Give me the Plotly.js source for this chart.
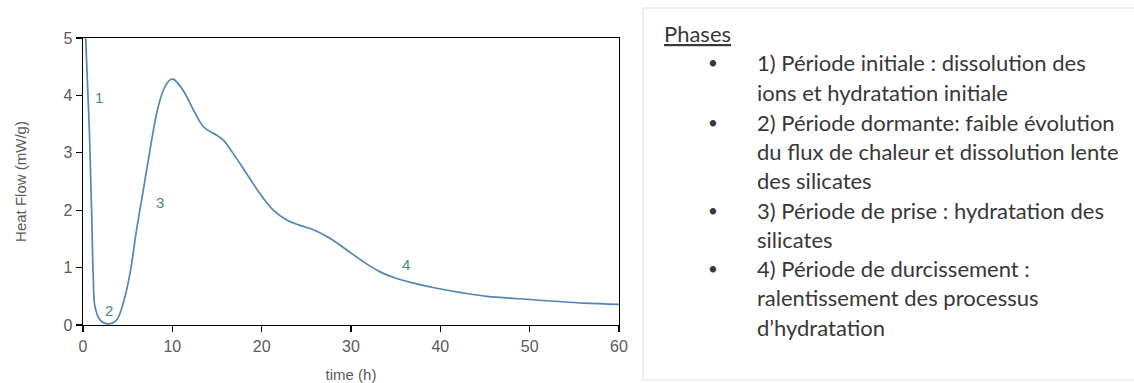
<!DOCTYPE html>
<html>
<head>
<meta charset="utf-8">
<script src="https://cdn.plot.ly/plotly-3.0.1.min.js"></script>
<style>html,body{margin:0;padding:0;background:#fff;}#chart{width:1134px;height:383px;}</style>
</head>
<body>
<div id="chart"></div>
<script>
// ---- data ----
const timeH = [0.3, 0.71, 0.97, 1.16, 1.34, 1.9, 2.84, 3.77, 4.5, 5.26, 6.0, 6.75, 7.5, 8.25, 8.99, 9.74, 10.15, 11.2, 12.35, 13.5, 14.6, 15.7, 16.8, 18.3, 19.8, 21.3, 22.8, 24.2, 25.8, 27.65, 29.5, 31.4, 33.2, 35.1, 37.0, 39.6, 42.5, 45.2, 50.4, 56.0, 60.0];
const heatFlow = [5.0, 3.4, 1.95, 0.78, 0.32, 0.09, 0.02, 0.09, 0.38, 0.9, 1.66, 2.35, 3.05, 3.69, 4.09, 4.27, 4.28, 4.09, 3.75, 3.45, 3.34, 3.22, 2.99, 2.64, 2.29, 2.0, 1.83, 1.74, 1.66, 1.51, 1.31, 1.10, 0.93, 0.81, 0.73, 0.64, 0.56, 0.50, 0.44, 0.38, 0.36];
const phaseLabels = ["1", "2", "3", "4"];
const phaseLabelX = [1.8, 2.9, 8.6, 36.2];
const phaseLabelY = [3.97, 0.26, 2.13, 1.05];
const xTicks = [0, 10, 20, 30, 40, 50, 60];
const yTicks = [0, 1, 2, 3, 4, 5];
const boxTitle = "Phases";
const bulletItems = [
  ["1) Période initiale : dissolution des", "ions et hydratation initiale"],
  ["2) Période dormante: faible évolution", "du flux de chaleur et dissolution lente", "des silicates"],
  ["3) Période de prise : hydratation des", "silicates"],
  ["4) Période de durcissement :", "ralentissement des processus", "d’hydratation"]
];

// ---- layout helpers (pixel -> paper) ----
const W = 1134, H = 383;
const L = 83, R = 619, T = 38, B = 325;
const px = p => (p - L) / (R - L);
const py = p => (B - p) / (B - T);

const annotations = [];
phaseLabels.forEach((s, i) => annotations.push({
  x: phaseLabelX[i], y: phaseLabelY[i], xref: 'x', yref: 'y', text: s, showarrow: false,
  font: {family: 'Liberation Sans, Arial, sans-serif', size: 15, color: '#4a8a78'}
}));

const textFont = {family: 'Lato, sans-serif', size: 22, color: '#383838'};
const bulletFont = {family: 'Lato, sans-serif', size: 17, color: '#383838'};
annotations.push({x: px(662), y: py(34), xref: 'paper', yref: 'paper', xanchor: 'left', yanchor: 'middle',
  text: '<u>' + boxTitle + '</u>', showarrow: false, font: textFont});
const lineYs = [63, 92, 122, 151, 180, 210, 239, 268, 297, 327];
const bulletYs = [63, 122, 210, 268];
let li = 0;
bulletItems.forEach((item, bi) => {
  annotations.push({x: px(713), y: py(bulletYs[bi]), xref: 'paper', yref: 'paper', xanchor: 'center', yanchor: 'middle',
    text: '•', showarrow: false, font: bulletFont});
  item.forEach(line => {
    annotations.push({x: px(755), y: py(lineYs[li]), xref: 'paper', yref: 'paper', xanchor: 'left', yanchor: 'middle',
      text: line, showarrow: false, font: textFont});
    li++;
  });
});

const trace = {
  x: timeH, y: heatFlow, type: 'scatter', mode: 'lines',
  line: {color: '#5386b6', width: 1.7, shape: 'spline', smoothing: 1.0},
  hoverinfo: 'skip'
};

const axisFont = {family: 'Liberation Sans, Arial, sans-serif', size: 16, color: '#5e5a58'};
const layout = {
  width: W, height: H,
  margin: {l: L, r: W - R, t: T, b: H - B, pad: 0},
  paper_bgcolor: '#fff', plot_bgcolor: '#fff',
  showlegend: false,
  xaxis: {
    range: [0, 60], tickvals: xTicks, ticks: 'outside', ticklen: 6, tickwidth: 1.3, tickcolor: '#000',
    showline: true, linecolor: '#000', linewidth: 1.3, mirror: true, showgrid: false, zeroline: false,
    tickfont: axisFont,
    title: {text: 'time (h)', font: {family: 'Liberation Sans, Arial, sans-serif', size: 15, color: '#5e5a58'}, standoff: 18}
  },
  yaxis: {
    range: [0, 5], tickvals: yTicks, ticks: 'outside', ticklen: 6, tickwidth: 1.3, tickcolor: '#000',
    showline: true, linecolor: '#000', linewidth: 1.3, mirror: true, showgrid: false, zeroline: false,
    tickfont: axisFont,
    title: {text: 'Heat Flow (mW/g)', font: {family: 'Liberation Sans, Arial, sans-serif', size: 15, color: '#5e5a58'}, standoff: 33}
  },
  shapes: [{
    type: 'rect', xref: 'paper', yref: 'paper',
    x0: px(643), x1: px(1160), y0: py(380), y1: py(8),
    line: {color: '#dde5ec', width: 1.2}, fillcolor: 'rgba(0,0,0,0)'
  }],
  annotations: annotations
};

Plotly.newPlot('chart', [trace], layout, {displayModeBar: false, staticPlot: true});
</script>
</body>
</html>
